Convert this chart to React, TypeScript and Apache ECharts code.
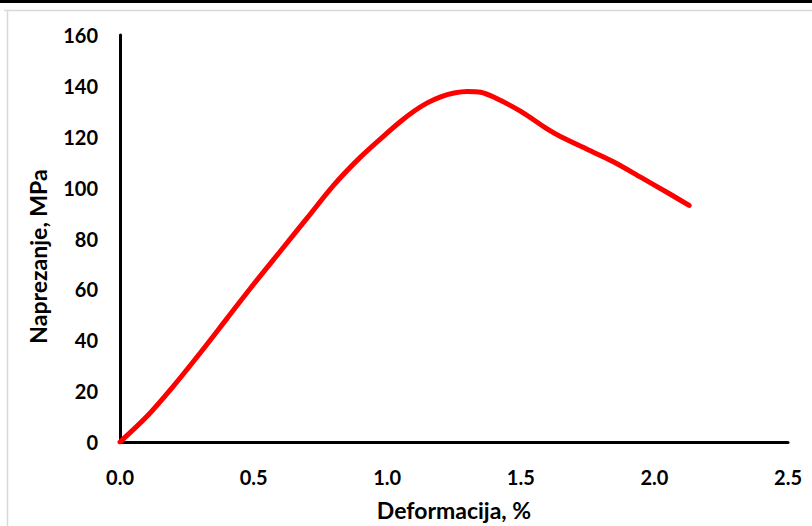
import React, { useEffect, useRef } from "react";
import * as echarts from "echarts";

const strain: number[] = [0, 0.1, 0.2, 0.3, 0.4, 0.5, 0.6, 0.7, 0.8, 0.9, 1.0, 1.05, 1.1, 1.15, 1.2, 1.25, 1.3, 1.35, 1.4, 1.5, 1.6, 1.65, 1.75, 1.85, 1.95, 2.05, 2.13];
const stress: number[] = [0, 10, 22, 35, 48.5, 62, 75, 88, 101, 112, 121.5, 126, 130, 133.3, 135.7, 137.2, 137.8, 137.5, 135.5, 130, 123, 120, 115, 110, 104, 98, 93];

const xTicks = { min: 0, max: 2.5, interval: 0.5 };
const yTicks = { min: 0, max: 160, interval: 20 };

const xName = "Deformacija, %";
const yName = "Naprezanje, MPa";

export default function App() {
  const ref = useRef<HTMLDivElement>(null);
  useEffect(() => {
    if (!ref.current) return;
    const chart = echarts.init(ref.current, null, { renderer: "svg" });
    const font = "Lato";
    chart.setOption({
      animation: false,
      backgroundColor: "#ffffff",
      graphic: [
        { type: "rect", shape: { x: 0, y: 0, width: 812, height: 3 }, style: { fill: "#000" } },
        { type: "line", shape: { x1: 4, y1: 10.5, x2: 812, y2: 10.5 }, style: { stroke: "#d9d9d9", lineWidth: 1.5 } },
        { type: "line", shape: { x1: 7.5, y1: 10, x2: 7.5, y2: 526 }, style: { stroke: "#d9d9d9", lineWidth: 1.5 } },
      ],
      grid: { left: 120, right: 24, top: 35, bottom: 78, containLabel: false },
      xAxis: {
        type: "value",
        min: xTicks.min,
        max: xTicks.max,
        interval: xTicks.interval,
        name: xName,
        nameLocation: "middle",
        nameGap: 56,
        nameTextStyle: { fontFamily: font, fontWeight: "bold", fontSize: 23, color: "#000" },
        axisLine: { show: true, lineStyle: { color: "#000", width: 3 } },
        axisTick: { show: false },
        splitLine: { show: false },
        axisLabel: {
          fontFamily: font,
          fontWeight: "bold",
          fontSize: 20,
          color: "#000",
          margin: 25,
          formatter: (v: number) => v.toFixed(1),
        },
      },
      yAxis: {
        type: "value",
        min: yTicks.min,
        max: yTicks.max,
        interval: yTicks.interval,
        name: yName,
        nameLocation: "middle",
        nameGap: 71,
        nameTextStyle: { fontFamily: font, fontWeight: "bold", fontSize: 23, color: "#000", padding: [0, 36, 0, 0] },
        axisLine: { show: true, lineStyle: { color: "#000", width: 3 } },
        axisTick: { show: false },
        splitLine: { show: false },
        axisLabel: {
          fontFamily: font,
          fontWeight: "bold",
          fontSize: 20,
          color: "#000",
          margin: 22,
        },
      },
      series: [
        {
          type: "line",
          data: strain.map((x, i) => [x, stress[i]]),
          smooth: 0.3,
          showSymbol: false,
          lineStyle: { color: "#ff0000", width: 5, cap: "round", join: "round" },
          z: 3,
        },
      ],
    });
    return () => chart.dispose();
  }, []);
  return (
    <div
      ref={ref}
      style={{ position: "fixed", left: 0, top: 0, width: 812, height: 526 }}
    />
  );
}
